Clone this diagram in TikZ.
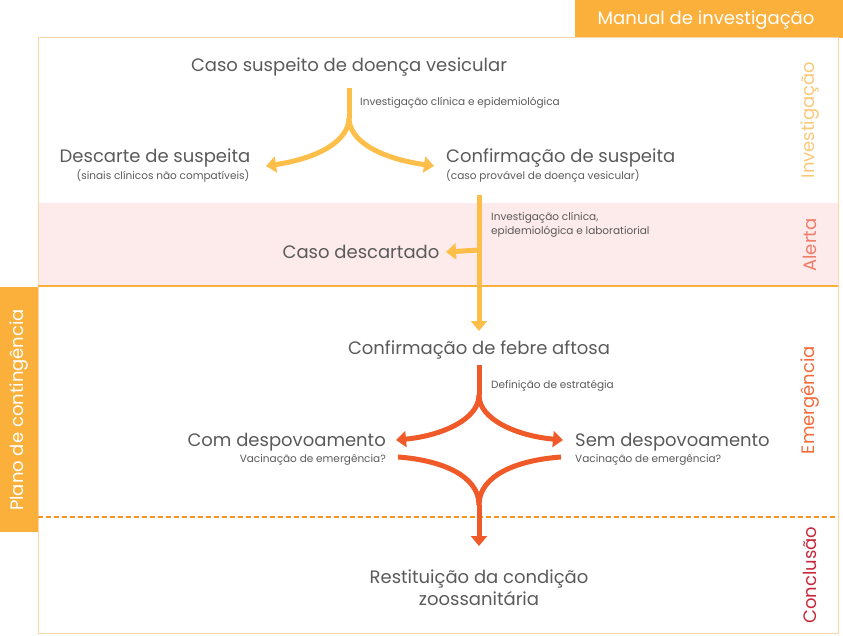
\documentclass[tikz,border=0pt]{standalone}
\usepackage{fontspec}
\setmainfont{Poppins}
\usetikzlibrary{arrows.meta}
\definecolor{txtgrey}{HTML}{5A5A5A}
\definecolor{gold}{HTML}{FDBE4A}
\definecolor{tabor}{HTML}{FBB03B}
\definecolor{redor}{HTML}{F05A28}
\definecolor{dashor}{HTML}{F7941D}
\definecolor{frame}{HTML}{F9D7A6}
\definecolor{pinkbg}{HTML}{FCEBEA}
\definecolor{lbinv}{HTML}{F9C97A}
\definecolor{lbale}{HTML}{F07D6A}
\definecolor{lbeme}{HTML}{F26B3A}
\definecolor{lbcon}{HTML}{C8283C}
\tikzset{
  title/.style={text=txtgrey,font=\fontsize{18}{22}\selectfont,inner sep=0pt},
  note/.style={text=txtgrey,font=\fontsize{10.5}{14}\selectfont,inner sep=0pt},
  phase/.style={rotate=90,font=\fontsize{18}{20}\selectfont,inner sep=0pt},
  goldline/.style={gold,line width=5pt},
  redline/.style={redor,line width=5pt},
  tip/.style={-{Triangle[length=10pt,width=16pt]}}
}
\begin{document}
\begin{tikzpicture}[x=1pt,y=-1pt]
\useasboundingbox (0,0) rectangle (843,636);
%
\fill[pinkbg] (38,203) rectangle (838,286);
\fill[tabor] (575,0) rectangle (843,38);
\fill[tabor] (0,287) rectangle (38,532);
\draw[frame,line width=1pt] (38,38) rectangle (838,633);
\draw[tabor,line width=1.2pt] (38,286) -- (838,286);
\draw[dashor,line width=1.4pt,dash pattern=on 5pt off 3pt] (38,517) -- (838,517);
%
\node (man) at (706,20) [text=white,font=\fontsize{18}{20}\selectfont] {Manual de investigação};
\node (plano) at (19,410) [phase,text=white] {Plano de contingência};
\node (pinv) at (810,120) [phase,text=lbinv] {Investigação};
\node (pale) at (810,245) [phase,text=lbale] {Alerta};
\node (peme) at (810,400) [phase,text=lbeme] {Emergência};
\node (pcon) at (810,575) [phase,text=lbcon] {Conclusão};
%
\node (susp) at (349,67) [title] {Caso suspeito de doença vesicular};
\node (desc) at (155,158) [title] {Descarte de suspeita};
\node (descn) at (163,176) [note] {(sinais clínicos não compatíveis)};
\node (conf) at (446,158) [title,anchor=west] {Confirmação de suspeita};
\node (confn) at (446,176) [note,anchor=west] {(caso provável de doença vesicular)};
\node (cdes) at (361,252) [title] {Caso descartado};
\node (febre) at (479,350) [title] {Confirmação de febre aftosa};
\node (com) at (386,442) [title,anchor=east] {Com despovoamento};
\node (comn) at (386,460) [note,anchor=east] {Vacinação de emergência?};
\node (sem) at (575,442) [title,anchor=west] {Sem despovoamento};
\node (semn) at (575,460) [note,anchor=west] {Vacinação de emergência?};
\node (rest) at (479,588) [title,align=center] {Restituição da condição\\zoossanitária};
%
\node (l1) at (360,103) [note,anchor=west] {Investigação clínica e epidemiológica};
\node (l2) at (491,225) [note,anchor=west,align=left] {Investigação clínica,\\epidemiológica e laboratiorial};
\node (l3) at (491,386) [note,anchor=west] {Definição de estratégia};
%
\coordinate (g0) at (349,88);
\coordinate (g1) at (349,118);
\coordinate (gl) at (266,166);
\coordinate (gr) at (434,166);
\coordinate (v0) at (479,195);
\coordinate (v1) at (479,250);
\coordinate (vl) at (446,252);
\coordinate (v2) at (479,331);
\coordinate (r0) at (479,365);
\coordinate (r1) at (479,395);
\coordinate (rl) at (396,440);
\coordinate (rr) at (563,440);
\coordinate (bl) at (398,457);
\coordinate (br) at (561,457);
\coordinate (b1) at (479,505);
\coordinate (b2) at (479,546);
%%
\draw[goldline] (g0) -- (g1);
\draw[goldline,tip] (g1) .. controls (349,140) and (320,158) .. (gl);
\draw[goldline,tip] (g1) .. controls (349,140) and (378,158) .. (gr);
\draw[goldline,tip] (v0) -- (v2);
\draw[goldline,tip] (v1) -- (vl);
%
\draw[redline] (r0) -- (r1);
\draw[redline,tip] (r1) .. controls (479,420) and (440,436) .. (rl);
\draw[redline,tip] (r1) .. controls (479,420) and (518,436) .. (rr);
\draw[redline] (bl) .. controls (440,460) and (479,475) .. (b1);
\draw[redline] (br) .. controls (518,460) and (479,475) .. (b1);
\draw[redline,tip] (b1) -- (b2);
\end{tikzpicture}
\end{document}
